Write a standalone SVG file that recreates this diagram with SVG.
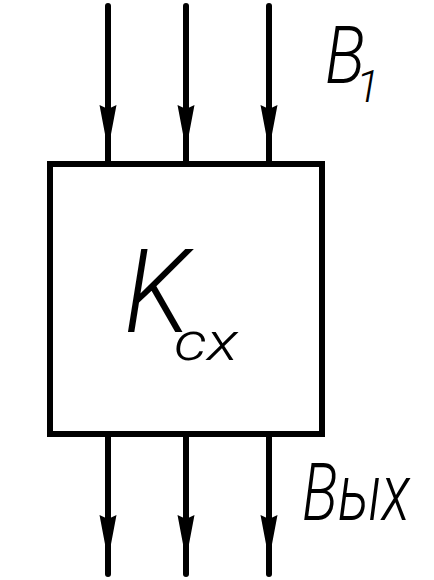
<svg xmlns="http://www.w3.org/2000/svg" width="434" height="580" viewBox="0 0 434 580">
<defs>
<style>
.ln{stroke:#000;stroke-width:6;fill:none;stroke-linecap:round}
.hd{fill:#000;stroke:none}
.t{font-family:Roboto,"Liberation Sans",sans-serif;font-weight:300;font-style:italic;fill:#000}
</style>
<path id="hdown" class="hd" d="M-8.5,0 L0,4 L8.5,0 L0,45 Z"/>
</defs>
<rect width="434" height="580" fill="#fff"/>
<g id="connectors">
<line class="ln" x1="108" y1="6" x2="108" y2="164"/>
<line class="ln" x1="186" y1="6" x2="186" y2="164"/>
<line class="ln" x1="269" y1="6" x2="269" y2="164"/>
<use href="#hdown" x="108" y="105"/>
<use href="#hdown" x="186" y="105"/>
<use href="#hdown" x="269" y="105"/>
<line class="ln" x1="108" y1="434" x2="108" y2="574"/>
<line class="ln" x1="186" y1="434" x2="186" y2="574"/>
<line class="ln" x1="269" y1="434" x2="269" y2="574"/>
<use href="#hdown" x="108" y="515"/>
<use href="#hdown" x="186" y="515"/>
<use href="#hdown" x="269" y="515"/>
</g>
<g id="block">
<rect x="50" y="164" width="272" height="270" fill="none" stroke="#000" stroke-width="6"/>
<text class="t" x="124" y="332" font-size="117" textLength="66" lengthAdjust="spacingAndGlyphs">K</text>
<text class="t" x="174" y="360" font-size="54" textLength="64" lengthAdjust="spacingAndGlyphs">сх</text>
</g>
<g id="label-in">
<text class="t" x="325" y="83" font-size="80" textLength="40" lengthAdjust="spacingAndGlyphs">B</text>
<text class="t" x="356" y="102" font-size="44">1</text>
</g>
<g id="label-out">
<text class="t" x="302" y="520" font-size="80" textLength="108" lengthAdjust="spacingAndGlyphs">Вых</text>
</g>
</svg>
